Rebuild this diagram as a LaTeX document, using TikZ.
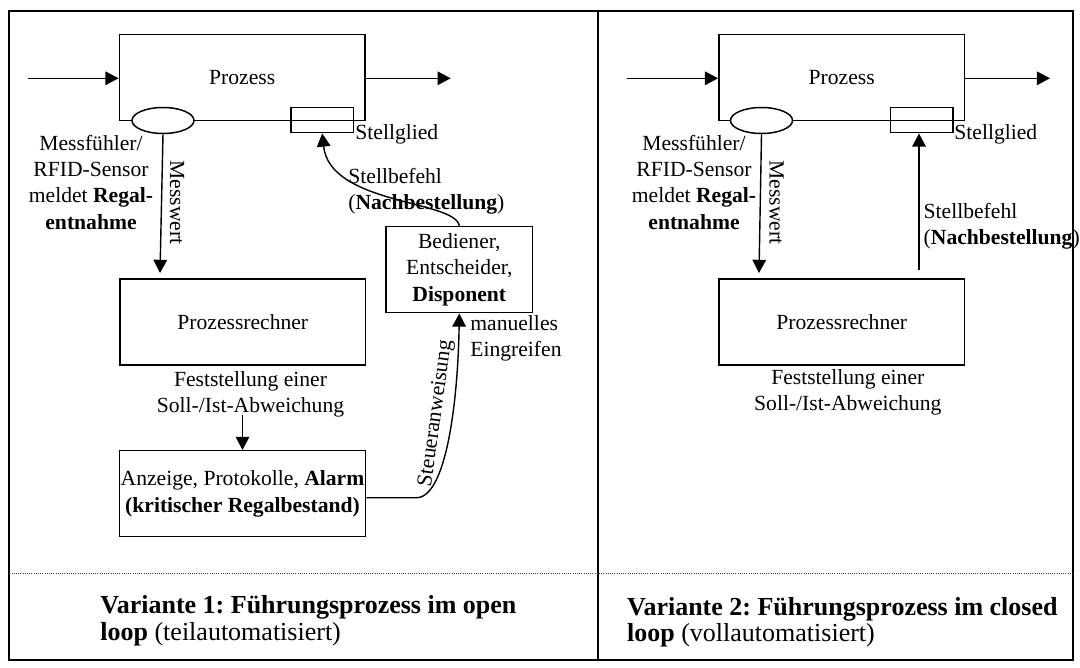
\documentclass[tikz,border=0pt]{standalone}
\usepackage{fontspec}
\setmainfont{Liberation Serif}
\usetikzlibrary{arrows.meta,shapes.geometric,calc}
\frenchspacing
\begin{document}
\begin{tikzpicture}[x=0.5pt,y=-0.5pt,
  every node/.style={font=\fontsize{10.8}{13.2}\selectfont, inner sep=0pt},
  box/.style={draw, line width=0.75pt, rectangle, minimum width=122.9pt, minimum height=43pt, align=center},
  sensor/.style={draw, fill=white, ellipse, line width=0.75pt, minimum width=31pt, minimum height=13pt},
  actor/.style={draw, rectangle, line width=0.75pt, minimum width=31.2pt, minimum height=12.5pt},
  flow/.style={line width=0.7pt, -{Triangle[length=6.6pt,width=6.8pt]}},
  note/.style={align=center},
  lnote/.style={align=left, anchor=west},
  caption/.style={font=\fontsize{13}{13.35}\selectfont, align=left, anchor=west},
  frameline/.style={line width=0.9pt},
]
\useasboundingbox (0,0) rectangle (1080,668);

% outer frame, panel divider and caption separator
\draw[frameline] (9.3,11) rectangle (1073,660);
\draw[frameline] (598.3,11) -- (598.3,660);
\draw[line width=0.5pt, black!75, dash pattern=on 0.5pt off 0.6pt] (9.3,573.5) -- (1073,573.5);

% ---------------- Variante 1: open loop ----------------
\node[box] (proz1) at (242.2,77.5) {Prozess};
\coordinate (in1) at (28,78.3);
\coordinate (out1) at (450.7,78.3);
\draw[flow] (in1) -- (in1 -| proz1.west);
\draw[flow] (proz1.east |- out1) -- (out1);
\node[sensor] (sens1) at (163,120.5) {};
\node[actor] (act1) at (322.2,120.2) {};
\node[lnote] (stg1) at (355,134.4) {\strut Stellglied};
\node[note] (mf1) at (91,184.5) {\strut Messfühler/\\\strut RFID-Sensor\\\strut meldet \textbf{Regal-}\\\strut\textbf{entnahme}};
\node[rotate=-90] (mw1) at (177,202.5) {Messwert};

\node[box] (rech1) at (242.8,322.2) {Prozessrechner};
\coordinate (m1end) at (160,273);
\draw[flow] (sens1.south) -- (m1end);

\node[note] (fest1) at (250.5,394.2) {\strut Feststellung einer\\\strut Soll-/Ist-Abweichung};
\node[box, minimum width=123.2pt] (anz1) at (242.5,493.7) {Anzeige, Protokolle, \textbf{Alarm}\\\textbf{(kritischer Regalbestand)}};
\draw[flow] ($(anz1.north |- fest1.south)+(0,-6)$) -- (anz1.north);

\node[box, minimum width=73.35pt] (bed1) at (459.3,269.7) {Bediener,\\Entscheider,\\\textbf{Disponent}};
\node[lnote] (man1) at (470,338) {\strut manuelles\\\strut Eingreifen};

% control instruction from the alarm display to the operator
\draw[flow] ([yshift=-2pt]anz1.east) -- ++(50,0)
  .. controls +(30,0) and (458,400) .. node[sloped, above=3pt, pos=0.6] (sa1) {Steueranweisung} (bed1.south);

% reorder command from the operator to the actuator
\draw[flow] (bed1.north) .. controls (456,200) and (330,205) .. (act1.south);
\node[lnote] (sb1) at (348,191) {\strut Stellbefehl\\\strut(\textbf{Nachbestellung})};

% ---------------- Variante 2: closed loop ----------------
\node[box] (proz2) at (841.7,77.5) {Prozess};
\coordinate (in2) at (626.7,78.3);
\coordinate (out2) at (1050,78.3);
\draw[flow] (in2) -- (in2 -| proz2.west);
\draw[flow] (proz2.east |- out2) -- (out2);
\node[sensor] (sens2) at (761.5,120.5) {};
\node[actor] (act2) at (921.7,120.2) {};
\node[lnote] (stg2) at (954,134.4) {\strut Stellglied};
\node[note] (mf2) at (694,184.5) {\strut Messfühler/\\\strut RFID-Sensor\\\strut meldet \textbf{Regal-}\\\strut\textbf{entnahme}};
\node[rotate=-90] (mw2) at (776.7,202.5) {Messwert};

\node[box] (rech2) at (841.7,322.2) {Prozessrechner};
\coordinate (m2end) at (759,273);
\draw[flow] (sens2.south) -- (m2end);
\node[note] (fest2) at (847.8,392.2) {\strut Feststellung einer\\\strut Soll-/Ist-Abweichung};

\coordinate (sb2start) at (919,270);
\draw[flow] (sb2start) -- (sb2start |- act2.south);
\node[lnote] (sb2) at (923.3,226) {\strut Stellbefehl\\\strut(\textbf{Nachbestellung})};

% ---------------- captions ----------------
\node[caption] (cap1) at (100,621.6) {\strut\textbf{Variante 1: Führungsprozess im open}\\\strut\textbf{loop} (teilautomatisiert)};
\node[caption] (cap2) at (626.7,623.2) {\strut\textbf{Variante 2: Führungsprozess im closed}\\\strut\textbf{loop} (vollautomatisiert)};
\end{tikzpicture}
\end{document}
